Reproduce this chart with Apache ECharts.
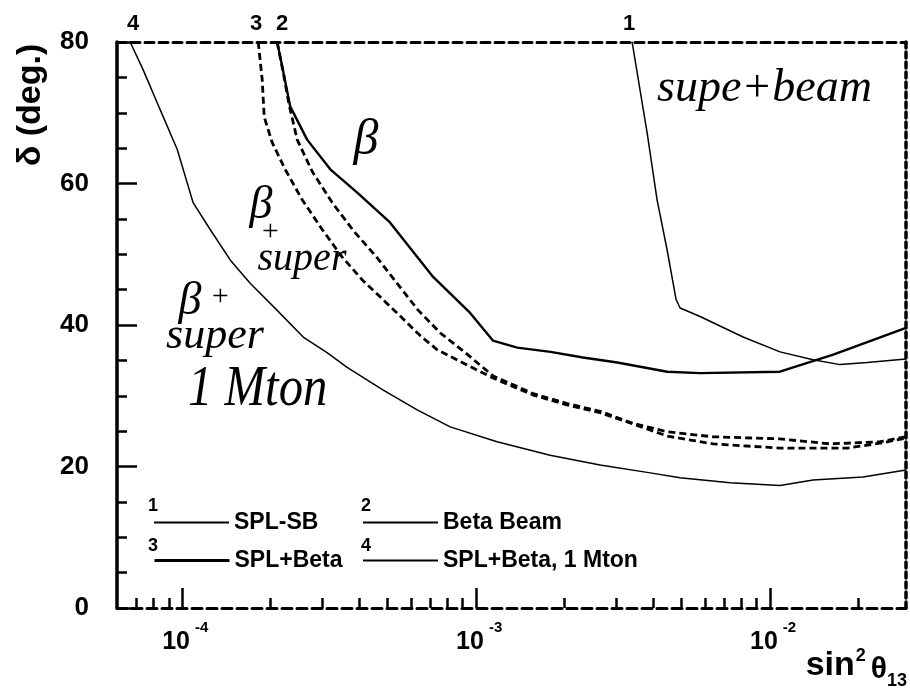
<!DOCTYPE html>
<html><head><meta charset="utf-8">
<style>html,body{margin:0;padding:0;background:#fff}#c{width:910px;height:695px}</style>
<script src="https://cdn.jsdelivr.net/npm/echarts@6.0.0/dist/echarts.min.js"></script>
</head><body><div id="c"></div>
<script>
// ---- data ----
const seriesNames = ['SPL-SB', 'Beta Beam', 'SPL+Beta', 'SPL+Beta, 1 Mton'];
const curveTags = ['1', '2', '3', '4'];

const splSbX = [3.393e-3, 3.816e-3, 4.126e-3, 4.464e-3, 4.789e-3, 4.941e-3, 5.779e-3, 8.094e-3, 1.081e-2, 1.400e-2, 1.730e-2, 2.138e-2, 2.9e-2];
const splSbY = [80, 67.2, 57.7, 50.6, 43.6, 42.4, 41.2, 38.3, 36.2, 35.1, 34.4, 34.7, 35.2];

const betaX = [2.104e-4, 2.21e-4, 2.33e-4, 2.66e-4, 3.19e-4, 3.94e-4, 5.09e-4, 7.14e-4, 9.54e-4, 1.14e-3, 1.38e-3, 1.79e-3, 2.31e-3, 3.02e-3, 4.47e-3, 5.78e-3, 1.08e-2, 1.45e-2, 1.64e-2, 2.9e-2];
const betaY = [80, 75.7, 70.9, 66.2, 62.0, 58.7, 54.5, 46.8, 41.7, 37.8, 36.8, 36.2, 35.4, 34.7, 33.4, 33.2, 33.4, 35.1, 35.8, 39.6];

const splBetaAX = [1.814e-4, 1.871e-4, 1.901e-4, 2.023e-4, 2.24e-4, 2.56e-4, 2.994e-4, 3.501e-4, 4.094e-4, 4.903e-4, 5.602e-4, 6.45e-4, 7.367e-4, 8.961e-4, 1.142e-3, 1.563e-3, 2.04e-3, 2.64e-3, 3.42e-3, 4.47e-3, 6.40e-3, 1.081e-2, 1.83e-2, 2.37e-2, 2.9e-2];
const splBetaAY = [80, 74.7, 69.4, 65.8, 62.0, 57.7, 53.5, 49.6, 46.4, 43.3, 41.0, 38.5, 36.5, 34.7, 32.5, 30.1, 28.7, 27.6, 26.0, 24.3, 23.2, 22.6, 22.6, 23.3, 24.0];

const splBetaBX = [2.104e-4, 2.206e-4, 2.311e-4, 2.461e-4, 2.769e-4, 3.237e-4, 3.846e-4, 4.605e-4, 5.428e-4, 6.346e-4, 7.543e-4, 9.176e-4, 1.142e-3, 1.563e-3, 2.04e-3, 2.64e-3, 3.42e-3, 4.47e-3, 6.40e-3, 1.081e-2, 1.60e-2, 2.37e-2, 2.9e-2];
const splBetaBY = [80, 75.7, 71.1, 66.2, 61.7, 57.3, 53.2, 49.5, 45.7, 42.1, 38.9, 36.1, 32.8, 30.3, 28.9, 27.8, 26.1, 24.9, 24.2, 23.9, 23.2, 23.5, 24.2];

const mtonX = [6.65e-5, 7.36e-5, 8.42e-5, 9.62e-5, 1.089e-4, 1.245e-4, 1.456e-4, 1.703e-4, 2.10e-4, 2.58e-4, 3.11e-4, 3.64e-4, 4.83e-4, 6.30e-4, 8.16e-4, 1.178e-3, 1.785e-3, 2.64e-3, 3.91e-3, 4.94e-3, 7.31e-3, 1.081e-2, 1.40e-2, 2.07e-2, 2.9e-2];
const mtonY = [80, 76.1, 70.4, 64.8, 57.3, 53.5, 49.2, 45.9, 42.1, 38.3, 36.1, 34.0, 30.8, 28.0, 25.6, 23.5, 21.6, 20.2, 19.1, 18.4, 17.7, 17.3, 18.1, 18.5, 19.5];

const xMajorTicks = [1e-4, 1e-3, 1e-2];
const xMinorTicks = [7e-5, 8e-5, 9e-5, 2e-4, 3e-4, 4e-4, 5e-4, 6e-4, 7e-4, 8e-4, 9e-4, 2e-3, 3e-3, 4e-3, 5e-3, 6e-3, 7e-3, 8e-3, 9e-3, 2e-2];
const yTickLabels = [0, 20, 40, 60, 80];

// ---- chart ----
const SANS = '"Liberation Sans", Arial, sans-serif';
const HAND = '"Liberation Serif", serif';
function pts(xs, ys, tag, off) {
  return xs.map((x, i) => (i === 0 && tag) ? {
    value: [x, ys[i]], symbol: 'circle', symbolSize: 1,
    label: { show: true, formatter: tag, offset: off || [0, 0], fontSize: 22, fontWeight: 'bold', color: '#000', fontFamily: SANS }
  } : [x, ys[i]]);
}
function lineSeries(name, data, width, type) {
  return {
    type: 'line', name: name, data: data, xAxisIndex: 0, yAxisIndex: 0,
    symbol: 'none', showSymbol: true, clip: false, silent: true,
    color: '#000',
    lineStyle: { color: '#000', width: width, type: type },
    label: { show: false, position: 'top', distance: 7, fontSize: 22, fontWeight: 'bold', color: '#000', fontFamily: SANS },
    emphasis: { disabled: true }
  };
}
const chart = echarts.init(document.getElementById('c'));
const legendBase = {
  padding: 0, itemWidth: 75, itemHeight: 14, selectedMode: false,
  itemStyle: { opacity: 0 },
  textStyle: { fontSize: 23, fontWeight: 'bold', color: '#000', fontFamily: SANS }
};
chart.setOption({
  animation: false,
  backgroundColor: '#fff',
  grid: { left: 117, right: 4, top: 42, bottom: 87, outerBoundsMode: 'none' },
  xAxis: [
    {
      type: 'log', logBase: 10, min: 6e-5, max: 0.029, position: 'bottom',
      axisLine: { lineStyle: { color: '#000', width: 3, type: [10, 5] } },
      axisTick: { show: true, inside: true, length: 20, customValues: xMajorTicks, lineStyle: { color: '#000', width: 2.5 } },
      axisLabel: {
        customValues: xMajorTicks, margin: 12, padding: [0, 0, 0, 6],
        formatter: v => '{n|10}{e|' + Math.round(Math.log10(v)) + '}',
        rich: {
          n: { fontSize: 25, fontWeight: 'bold', fontFamily: SANS, color: '#000', lineHeight: 25, verticalAlign: 'top', padding: [10, 0, 0, 0] },
          e: { fontSize: 15, fontWeight: 'bold', fontFamily: SANS, color: '#000', lineHeight: 15, verticalAlign: 'top', padding: [0, 0, 0, 5] }
        }
      },
      splitLine: { show: false }, minorTick: { show: false }
    },
    {
      type: 'log', logBase: 10, min: 6e-5, max: 0.029, position: 'bottom',
      axisLine: { show: false },
      axisTick: { show: true, inside: true, length: 10, customValues: xMinorTicks, lineStyle: { color: '#000', width: 2.5 } },
      axisLabel: { show: false }, splitLine: { show: false }
    },
    {
      type: 'log', logBase: 10, min: 6e-5, max: 0.029, position: 'top',
      axisLine: { lineStyle: { color: '#000', width: 3, type: [9, 5] } },
      axisTick: { show: false }, axisLabel: { show: false }, splitLine: { show: false }
    }
  ],
  yAxis: [
    {
      type: 'value', min: 0, max: 80, interval: 20, position: 'left',
      axisLine: { show: true, lineStyle: { color: '#000', width: 3.5 } },
      axisTick: { show: true, inside: true, length: 20, lineStyle: { color: '#000', width: 2.5 } },
      minorTick: { show: true, splitNumber: 4, length: 10, lineStyle: { color: '#000', width: 2.5 } },
      axisLabel: {
        margin: 28, fontSize: 26, fontWeight: 'bold', color: '#000', fontFamily: SANS,
        customValues: yTickLabels
      },
      splitLine: { show: false }
    },
    {
      type: 'value', min: 0, max: 80, position: 'right',
      axisLine: { show: true, lineStyle: { color: '#000', width: 3.5, type: [6, 4] } },
      axisTick: { show: false }, axisLabel: { show: false }, splitLine: { show: false }
    }
  ],
  legend: [
    Object.assign({}, legendBase, { data: [seriesNames[0]], left: 153, top: 511 }),
    Object.assign({}, legendBase, { data: [seriesNames[1]], left: 362, top: 511 }),
    Object.assign({}, legendBase, { data: [seriesNames[2]], left: 153, top: 549, lineStyle: { type: 'solid', width: 3 } }),
    Object.assign({}, legendBase, { data: [seriesNames[3]], left: 362, top: 549 })
  ],
  series: [
    lineSeries(seriesNames[0], pts(splSbX, splSbY, curveTags[0], [-3, 0]), 1.5, 'solid'),
    lineSeries(seriesNames[1], pts(betaX, betaY, curveTags[1], [5, 0]), 2.4, 'solid'),
    lineSeries(seriesNames[2], pts(splBetaAX, splBetaAY, curveTags[2], [-2, 0]), 2.8, [7, 4]),
    lineSeries(seriesNames[2], pts(splBetaBX, splBetaBY, null), 2.8, [7, 4]),
    lineSeries(seriesNames[3], pts(mtonX, mtonY, curveTags[3], [3, 0]), 1.5, 'solid')
  ],
  graphic: [
    { type: 'text', x: 31, y: 105, rotation: Math.PI / 2, silent: true,
      style: { text: 'δ (deg.)', font: 'bold 34px ' + SANS, fill: '#000', align: 'center', verticalAlign: 'middle', textAlign: 'center', textVerticalAlign: 'middle' } },
    { type: 'text', x: 907, y: 640, silent: true,
      style: {
        text: '{a|sin}{b|2}{c|θ}{d|13}', align: 'right', verticalAlign: 'top', textAlign: 'right', textVerticalAlign: 'top', fill: '#000',
        rich: {
          a: { fontSize: 34, fontWeight: 'bold', fontFamily: SANS, fill: '#000', lineHeight: 34, verticalAlign: 'top', padding: [9, 0, 0, 0] },
          b: { fontSize: 18, fontWeight: 'bold', fontFamily: SANS, fill: '#000', lineHeight: 18, verticalAlign: 'top', padding: [7, 0, 0, 1] },
          c: { fontSize: 30, fontWeight: 'bold', fontFamily: SANS, fill: '#000', lineHeight: 30, verticalAlign: 'top', padding: [15, 0, 0, 5] },
          d: { fontSize: 18, fontWeight: 'bold', fontFamily: SANS, fill: '#000', lineHeight: 18, verticalAlign: 'top', padding: [32, 0, 0, 0] }
        }
      } },
    // legend curve numbers
    { type: 'text', x: 153, y: 506, silent: true, style: { text: '1', font: 'bold 18px ' + SANS, fill: '#000', align: 'center', verticalAlign: 'middle', textAlign: 'center', textVerticalAlign: 'middle' } },
    { type: 'text', x: 366, y: 506, silent: true, style: { text: '2', font: 'bold 18px ' + SANS, fill: '#000', align: 'center', verticalAlign: 'middle', textAlign: 'center', textVerticalAlign: 'middle' } },
    { type: 'text', x: 153, y: 546, silent: true, style: { text: '3', font: 'bold 18px ' + SANS, fill: '#000', align: 'center', verticalAlign: 'middle', textAlign: 'center', textVerticalAlign: 'middle' } },
    { type: 'text', x: 366, y: 546, silent: true, style: { text: '4', font: 'bold 18px ' + SANS, fill: '#000', align: 'center', verticalAlign: 'middle', textAlign: 'center', textVerticalAlign: 'middle' } },
    // handwritten annotations
    { type: 'text', x: 657, y: 89, silent: true, style: { text: 'supe+beam', font: 'italic 46px ' + HAND, fill: '#000', align: 'left', verticalAlign: 'middle', textAlign: 'left', textVerticalAlign: 'middle' } },
    { type: 'text', x: 366, y: 141, silent: true, style: { text: 'β', font: 'italic 50px ' + HAND, fill: '#000', align: 'center', verticalAlign: 'middle', textAlign: 'center', textVerticalAlign: 'middle' } },
    { type: 'text', x: 261, y: 206, silent: true, style: { text: 'β', font: 'italic 46px ' + HAND, fill: '#000', align: 'center', verticalAlign: 'middle', textAlign: 'center', textVerticalAlign: 'middle' } },
    { type: 'text', x: 270, y: 232, silent: true, style: { text: '+', font: 'italic 30px ' + HAND, fill: '#000', align: 'center', verticalAlign: 'middle', textAlign: 'center', textVerticalAlign: 'middle' } },
    { type: 'text', x: 302, y: 259, silent: true, style: { text: 'super', font: 'italic 40px ' + HAND, fill: '#000', align: 'center', verticalAlign: 'middle', textAlign: 'center', textVerticalAlign: 'middle' } },
    { type: 'text', x: 190, y: 302, silent: true, style: { text: 'β', font: 'italic 46px ' + HAND, fill: '#000', align: 'center', verticalAlign: 'middle', textAlign: 'center', textVerticalAlign: 'middle' } },
    { type: 'text', x: 220, y: 297, silent: true, style: { text: '+', font: 'italic 30px ' + HAND, fill: '#000', align: 'center', verticalAlign: 'middle', textAlign: 'center', textVerticalAlign: 'middle' } },
    { type: 'text', x: 215, y: 336, silent: true, style: { text: 'super', font: 'italic 44px ' + HAND, fill: '#000', align: 'center', verticalAlign: 'middle', textAlign: 'center', textVerticalAlign: 'middle' } },
    { type: 'text', x: 188, y: 390, scaleX: 0.87, silent: true, style: { text: '1 Mton', font: 'italic 56px ' + HAND, fill: '#000', align: 'left', verticalAlign: 'middle', textAlign: 'left', textVerticalAlign: 'middle' } }
  ]
});
</script>
</body></html>
